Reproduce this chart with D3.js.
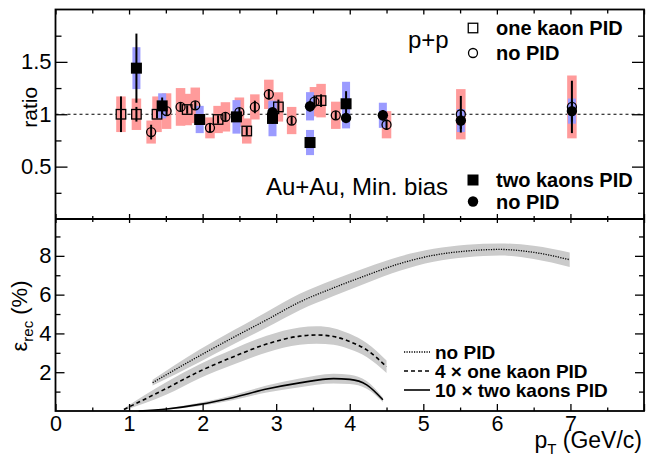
<!DOCTYPE html>
<html>
<head>
<meta charset="utf-8">
<script src="https://cdn.jsdelivr.net/npm/d3@7"></script>
<style>
  html, body { margin: 0; padding: 0; background: #fff; }
  svg { display: block; font-family: "Liberation Sans", Arial, Helvetica, sans-serif; }
</style>
</head>
<body>
<svg id="chart" width="657" height="460"></svg>
<script>
// ---------- data ----------
// top panel: ratio vs pT
const ppOneKaonPt    = [0.89, 1.10, 1.38, 1.79, 2.21, 2.60, 3.03, 3.61];
const ppOneKaonRatio = [1.00, 1.00, 1.00, 1.045, 0.95, 0.84, 1.07, 1.13];
const ppOneKaonStat  = [0.17, 0.07, 0.04, 0.04, 0.04, 0.04, 0.07, 0.06];
const ppOneKaonSys   = [0.17, 0.15, 0.17, 0.15, 0.13, 0.12, 0.14, 0.16];

const ppNoPidPt    = [1.30, 1.51, 1.70, 1.90, 2.10, 2.31, 2.50, 2.71, 2.90, 3.21, 3.52, 3.81, 4.50, 5.51, 7.02];
const ppNoPidRatio = [0.83, 1.03, 1.07, 1.085, 0.87, 0.975, 1.02, 1.07, 1.19, 0.94, 1.12, 0.99, 0.90, 1.00, 1.07];
const ppNoPidStat  = [0.07, 0.04, 0.04, 0.04, 0.04, 0.04, 0.04, 0.06, 0.05, 0.04, 0.06, 0.04, 0.05, 0.175, 0.25];
const ppNoPidSys   = [0.11, 0.17, 0.18, 0.17, 0.10, 0.14, 0.14, 0.12, 0.14, 0.13, 0.14, 0.13, 0.13, 0.24, 0.30];

const aaTwoKaonPt    = [1.10, 1.45, 1.96, 2.46, 2.95, 3.46, 3.95];
const aaTwoKaonRatio = [1.44, 1.08, 0.95, 0.975, 0.96, 0.73, 1.10];
const aaTwoKaonStat  = [0.33, 0.08, 0.04, 0.04, 0.05, 0.04, 0.12];
const aaTwoKaonSys   = [0.20, 0.12, 0.13, 0.16, 0.17, 0.12, 0.21];

const aaNoPidPt    = [2.95, 3.46, 3.95, 4.45, 5.51, 7.02];
const aaNoPidRatio = [1.02, 1.076, 0.965, 0.99, 0.94, 1.03];
const aaNoPidStat  = [0.04, 0.05, 0.05, 0.05, 0.08, 0.10];
const aaNoPidSys   = [0.10, 0.135, 0.10, 0.12, 0.11, 0.12];

// bottom panel: efficiency (%) vs pT
const effNoPidPt   = [1.32, 1.96, 2.42, 2.87, 3.32, 3.78, 4.23, 4.68, 5.14, 5.59, 6.04, 6.50, 6.99];
const effNoPid     = [1.46, 2.85, 3.80, 4.70, 5.62, 6.35, 7.00, 7.60, 8.03, 8.25, 8.33, 8.18, 7.80];
const effNoPidErr  = [0.15, 0.32, 0.36, 0.40, 0.42, 0.42, 0.40, 0.37, 0.33, 0.32, 0.31, 0.34, 0.37];

const effOneKaonPt  = [0.93, 1.51, 1.96, 2.42, 2.87, 3.32, 3.55, 3.78, 4.00, 4.23, 4.50];
const effOneKaon    = [0.08, 1.17, 2.05, 2.80, 3.45, 3.86, 3.92, 3.84, 3.58, 3.15, 2.28];
const effOneKaonErr = [0.05, 0.32, 0.36, 0.40, 0.43, 0.45, 0.45, 0.43, 0.40, 0.36, 0.32];

const effTwoKaonPt  = [1.13, 1.51, 1.96, 2.42, 2.87, 3.32, 3.78, 4.00, 4.23, 4.45];
const effTwoKaon    = [0.00, 0.10, 0.34, 0.70, 1.13, 1.45, 1.67, 1.63, 1.35, 0.58];
const effTwoKaonErr = [0.00, 0.03, 0.08, 0.13, 0.18, 0.22, 0.25, 0.24, 0.20, 0.12];

// ticks
const ratioMajor = [0.5, 1, 1.5];
const ratioMinor = [0.25, 0.75, 1.25, 1.75];
const effMajor = [2, 4, 6, 8];
const effMinor = [1, 3, 5, 7, 9];
const ptMajor = [0, 1, 2, 3, 4, 5, 6, 7, 8];
const ptMinor = [0.5, 1.5, 2.5, 3.5, 4.5, 5.5, 6.5, 7.5];
const ptLabels = ["0", "1", "2", "3", "4", "5", "6", "7", ""];

// ---------- layout ----------
const L = 55.5, R = 644, T1 = 9.5, B1 = 219, B2 = 411;
const pink = "#ff9b9b", blue = "#9b9bff", gray = "#cbcbcb";

const svg = d3.select("#chart");
const x = d3.scaleLinear().domain([0, 8]).range([L, R]);
const yR = d3.scaleLinear().domain([0, 2]).range([B1, T1]);
const yE = d3.scaleLinear().domain([0, 9.9]).range([B2, B1]);

const zip = (xs, ys, st, sy) => xs.map((v, i) => ({x: v, y: ys[i], s: st[i], e: sy[i]}));
const ppOne = zip(ppOneKaonPt, ppOneKaonRatio, ppOneKaonStat, ppOneKaonSys);
const ppNo  = zip(ppNoPidPt, ppNoPidRatio, ppNoPidStat, ppNoPidSys);
const aaTwo = zip(aaTwoKaonPt, aaTwoKaonRatio, aaTwoKaonStat, aaTwoKaonSys);
const aaNo  = zip(aaNoPidPt, aaNoPidRatio, aaNoPidStat, aaNoPidSys);

// ---------- top panel ----------
const topG = svg.append("g");
topG.append("line")
  .attr("x1", x(0)).attr("x2", x(8)).attr("y1", yR(1)).attr("y2", yR(1))
  .attr("stroke", "#000").attr("stroke-width", 1).attr("stroke-dasharray", "3,3");

function boxes(data, color, w) {
  topG.append("g").selectAll("rect").data(data).join("rect")
    .attr("x", d => x(d.x) - w / 2).attr("width", w)
    .attr("y", d => yR(d.y + d.e)).attr("height", d => yR(d.y - d.e) - yR(d.y + d.e))
    .attr("fill", color);
}
boxes(ppOne, pink, 9.5);
boxes(ppNo, pink, 9.5);
boxes(aaTwo, blue, 8);
boxes(aaNo, blue, 8);

function bars(data) {
  topG.append("g").selectAll("line").data(data).join("line")
    .attr("x1", d => x(d.x)).attr("x2", d => x(d.x))
    .attr("y1", d => yR(d.y + d.s)).attr("y2", d => yR(d.y - d.s))
    .attr("stroke", "#000").attr("stroke-width", 2);
}
bars(ppOne); bars(ppNo); bars(aaTwo); bars(aaNo);

const sqOpen = 9.5, sqFull = 11, rOpen = 4.5, rFull = 5.2;
function squares(g, data, s, filled, xs, ys) {
  g.append("g").selectAll("rect").data(data).join("rect")
    .attr("x", d => xs(d) - s / 2).attr("y", d => ys(d) - s / 2)
    .attr("width", s).attr("height", s)
    .attr("fill", filled ? "#000" : "none").attr("stroke", "#000")
    .attr("stroke-width", filled ? 0 : 1.3);
}
function circles(g, data, r, filled, xs, ys) {
  g.append("g").selectAll("circle").data(data).join("circle")
    .attr("cx", xs).attr("cy", ys).attr("r", r)
    .attr("fill", filled ? "#000" : "none").attr("stroke", "#000")
    .attr("stroke-width", filled ? 0 : 1.3);
}
const px = d => x(d.x), py = d => yR(d.y);
squares(topG, ppOne, sqOpen, false, px, py);
circles(topG, ppNo, rOpen, false, px, py);
squares(topG, aaTwo, sqFull, true, px, py);
circles(topG, aaNo, rFull, true, px, py);

// ---------- bottom panel ----------
const botG = svg.append("g");
function effSeries(pts, vals, errs, dash, w) {
  const d = pts.map((p, i) => ({x: p, y: vals[i], e: errs[i]}));
  const area = d3.area().curve(d3.curveMonotoneX)
    .x(v => x(v.x)).y0(v => yE(Math.max(0, v.y - v.e))).y1(v => yE(v.y + v.e));
  botG.append("path").datum(d).attr("d", area).attr("fill", gray);
  const line = d3.line().curve(d3.curveMonotoneX).x(v => x(v.x)).y(v => yE(v.y));
  botG.append("path").datum(d).attr("d", line).attr("fill", "none")
    .attr("stroke", "#000").attr("stroke-width", w)
    .attr("stroke-dasharray", dash);
}
effSeries(effNoPidPt, effNoPid, effNoPidErr, "1.2,1.3", 1.3);
effSeries(effOneKaonPt, effOneKaon, effOneKaonErr, "4,3", 1.6);
effSeries(effTwoKaonPt, effTwoKaon, effTwoKaonErr, null, 1.6);

// ---------- axes ----------
function styleAxis(g, fs) {
  g.select(".domain").remove();
  g.selectAll(".tick line").attr("stroke", "#000").attr("stroke-width", 1.3);
  g.selectAll(".tick text").attr("fill", "#000").attr("font-size", fs || 22)
    .attr("font-family", "Liberation Sans, Arial, sans-serif");
}
function ax(gen, tx, ty, fs) {
  const g = svg.append("g").attr("transform", `translate(${tx},${ty})`).call(gen);
  styleAxis(g, fs);
  return g;
}
const none = () => "";
// top panel
ax(d3.axisLeft(yR).tickValues(ratioMajor).tickSize(-12).tickPadding(4).tickFormat(d3.format("")), L, 0);
ax(d3.axisLeft(yR).tickValues(ratioMinor).tickSize(-6).tickFormat(none), L, 0);
ax(d3.axisRight(yR).tickValues(ratioMajor).tickSize(-12).tickFormat(none), R, 0);
ax(d3.axisRight(yR).tickValues(ratioMinor).tickSize(-6).tickFormat(none), R, 0);
ax(d3.axisTop(x).tickValues(ptMajor).tickSize(-5).tickFormat(none), 0, T1);
ax(d3.axisTop(x).tickValues(ptMinor).tickSize(-4).tickFormat(none), 0, T1);
ax(d3.axisBottom(x).tickValues(ptMajor).tickSize(-5).tickFormat(none), 0, B1);
ax(d3.axisBottom(x).tickValues(ptMinor).tickSize(-3).tickFormat(none), 0, B1);
// bottom panel
ax(d3.axisLeft(yE).tickValues(effMajor).tickSize(-9).tickPadding(4).tickFormat(d3.format("d")), L, 0);
ax(d3.axisLeft(yE).tickValues(effMinor).tickSize(-5).tickFormat(none), L, 0);
ax(d3.axisRight(yE).tickValues(effMajor).tickSize(-9).tickFormat(none), R, 0);
ax(d3.axisRight(yE).tickValues(effMinor).tickSize(-5).tickFormat(none), R, 0);
ax(d3.axisTop(x).tickValues(ptMajor).tickSize(-4).tickFormat(none), 0, B1);
ax(d3.axisTop(x).tickValues(ptMinor).tickSize(-3).tickFormat(none), 0, B1);
const xb = ax(d3.axisBottom(x).tickValues(ptMajor).tickSize(-7).tickPadding(5)
  .tickFormat((d, i) => ptLabels[i]), 0, B2, 21.5);
xb.selectAll(".tick text").attr("dy", "0.71em");
ax(d3.axisBottom(x).tickValues(ptMinor).tickSize(-3.5).tickFormat(none), 0, B2);

// frames
svg.append("rect").attr("x", L).attr("y", T1).attr("width", R - L).attr("height", B2 - T1)
  .attr("fill", "none").attr("stroke", "#000").attr("stroke-width", 1.8);
svg.append("line").attr("x1", L).attr("x2", R).attr("y1", B1).attr("y2", B1)
  .attr("stroke", "#000").attr("stroke-width", 1.8);

// ---------- axis titles ----------
svg.append("text").attr("transform", `translate(36.5,${yR(1) - 7}) rotate(-90)`)
  .attr("text-anchor", "middle").attr("font-size", 21).text("ratio");

const et = svg.append("text").attr("transform", `translate(27,316) rotate(-90)`)
  .attr("text-anchor", "middle").attr("font-size", 22);
et.append("tspan").text("\u03B5");
et.append("tspan").attr("font-size", 15).attr("dy", 6).text("rec");
et.append("tspan").attr("dy", -6).text(" (%)");

const xt = svg.append("text").attr("x", 642).attr("y", 448)
  .attr("text-anchor", "end").attr("font-size", 23);
xt.append("tspan").text("p");
xt.append("tspan").attr("font-size", 15).attr("dy", 6).text("T");
xt.append("tspan").attr("dy", -6).text(" (GeV/c)");

// ---------- annotations & legends ----------
svg.append("text").attr("x", 408).attr("y", 48).attr("font-size", 24).text("p+p");
svg.append("text").attr("x", 266).attr("y", 195).attr("font-size", 24).text("Au+Au, Min. bias");

const legTop = [
  {label: "one kaon PID", y: 28, kind: "sqOpen"},
  {label: "no PID", y: 53, kind: "cOpen"},
  {label: "two kaons PID", y: 180, kind: "sqFull"},
  {label: "no PID", y: 201.5, kind: "cFull"}
];
const lg = svg.append("g");
legTop.forEach(d => {
  const mx = 473;
  if (d.kind === "sqOpen") squares(lg, [d], sqOpen, false, () => mx, v => v.y);
  if (d.kind === "sqFull") squares(lg, [d], sqFull, true, () => mx, v => v.y);
  if (d.kind === "cOpen") circles(lg, [d], rOpen, false, () => mx, v => v.y);
  if (d.kind === "cFull") circles(lg, [d], rFull, true, () => mx, v => v.y);
  lg.append("text").attr("x", 496).attr("y", d.y).attr("dy", "0.36em")
    .attr("font-size", 20).attr("font-weight", "bold").text(d.label);
});

const legBot = [
  {label: "no PID", y: 352, dash: "1.2,1.3", w: 1.3},
  {label: "4 \u00D7 one kaon PID", y: 371, dash: "4,3", w: 1.6},
  {label: "10 \u00D7 two kaons PID", y: 390, dash: null, w: 1.6}
];
legBot.forEach(d => {
  lg.append("line").attr("x1", 404).attr("x2", 430).attr("y1", d.y).attr("y2", d.y)
    .attr("stroke", "#000").attr("stroke-width", d.w).attr("stroke-dasharray", d.dash);
  lg.append("text").attr("x", 435).attr("y", d.y).attr("dy", "0.36em")
    .attr("font-size", 19).attr("font-weight", "bold").text(d.label);
});
</script>
</body>
</html>
